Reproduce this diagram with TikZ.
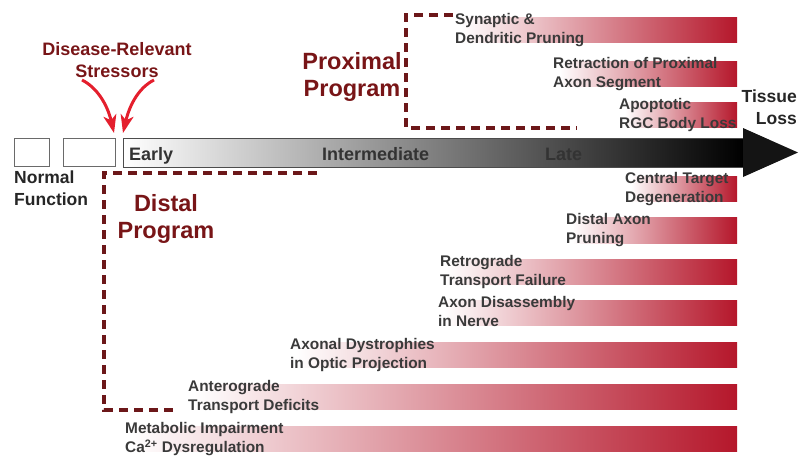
\documentclass[tikz,border=0pt]{standalone}
\usepackage{fontspec}
\setmainfont{Liberation Sans}
\usetikzlibrary{arrows.meta}

\definecolor{labelgray}{HTML}{3A3A3A}
\definecolor{titlemaroon}{HTML}{781517}
\definecolor{dashmaroon}{HTML}{6C1719}
\definecolor{barred}{HTML}{B5172B}
\definecolor{stressred}{HTML}{E41F2D}
\definecolor{boxgray}{HTML}{6A6A6A}

% one degeneration bar: name, text x, bar top, bar bottom, label
\newcommand{\degbar}[5]{%
  \shade[left color=white, right color=barred] (#2+6,#3) rectangle (737,#4);
  \node[lbl] (#1) at (#2,#3-3.5) {#5};
}

\begin{document}
\begin{tikzpicture}[x=1pt, y=-1pt,
  lbl/.style={font=\fontsize{15.4}{18.5}\selectfont\bfseries, text=labelgray,
    align=left, anchor=north west, inner sep=0pt},
  progtitle/.style={font=\fontsize{23.5}{27.5}\selectfont\bfseries, text=titlemaroon,
    align=center, anchor=north, inner sep=0pt},
  stagetext/.style={font=\fontsize{18}{22}\selectfont\bfseries, text=black!80,
    anchor=base west, inner sep=0pt},
  sidetext/.style={font=\fontsize{17.5}{22}\selectfont\bfseries, text=black!85,
    inner sep=0pt},
  progline/.style={dashmaroon, line width=3.2pt, dash pattern=on 9pt off 6pt},
  stressarrow/.style={stressred, line width=3pt,
    -{Stealth[length=18pt, width=13pt, inset=5pt]}},
  statebox/.style={draw=boxgray, line width=1.2pt, fill=white}
]
\useasboundingbox (0,0) rectangle (800,456);

% ---- time axis ----
\node[statebox, minimum width=35pt, minimum height=28pt, anchor=north west] (normA) at (14,138) {};
\node[statebox, minimum width=52pt, minimum height=28pt, anchor=north west] (normB) at (63,138) {};
\shade[left color=white, middle color=black!40, right color=black] (123,138) rectangle (743,167);
\fill[black!92] (743,128) -- (798,152.5) -- (743,177) -- cycle;
\draw[black!70, line width=1pt, line join=miter]
  (743,138) -- (123,138) -- (123,167) -- (743,167);
\node[stagetext] (early) at (129,160) {Early};
\node[stagetext] (inter) at (322,160) {Intermediate};
\node[stagetext] (late) at (545,160) {Late};

\node[sidetext, align=left, anchor=north west] (normal) at (14,171) {Normal\\Function};
\node[sidetext, align=right, anchor=north east] (tissue) at (797,90) {Tissue\\Loss};

% ---- stressors ----
\node[font=\fontsize{18}{22}\selectfont\bfseries, text=titlemaroon, align=center,
  anchor=north, inner sep=0pt] (stress) at (117,42) {Disease-Relevant\\Stressors};
\coordinate (sL) at (82,80);
\coordinate (sR) at (154,80);
\coordinate (hitL) at (114,133);
\coordinate (hitR) at (123,133);
\draw[stressarrow] (sL) .. controls (96,87) and (107,103) .. (hitL);
\draw[stressarrow] (sR) .. controls (140,87) and (130,103) .. (hitR);

% ---- proximal program ----
\draw[progline] (453,15) -- (406,15) -- (406,128) -- (577,128);
\node[progtitle] (prox) at (352,52) {Proximal\\Program};
\degbar{syn}{455}{17}{42}{Synaptic \&\\Dendritic Pruning}
\degbar{retr}{553}{61}{86}{Retraction of Proximal\\Axon Segment}
\degbar{apop}{619}{102}{127}{Apoptotic\\RGC Body Loss}

% ---- distal program ----
\draw[progline] (317,173) -- (104,173) -- (104,410) -- (177,410);
\node[progtitle] (dist) at (166,194) {Distal\\Program};
\degbar{cent}{625}{176}{201}{Central Target\\Degeneration}
\degbar{dprun}{566}{217}{243}{Distal Axon\\Pruning}
\degbar{retro}{440}{259}{284}{Retrograde\\Transport Failure}
\degbar{disas}{438}{300}{325}{Axon Disassembly\\in Nerve}
\degbar{dyst}{290}{342}{367}{Axonal Dystrophies\\in Optic Projection}
\degbar{antero}{188}{384}{409}{Anterograde\\Transport Deficits}
\degbar{metab}{125}{426}{451}{Metabolic Impairment\\Ca\textsuperscript{2+} Dysregulation}
\end{tikzpicture}
\end{document}
